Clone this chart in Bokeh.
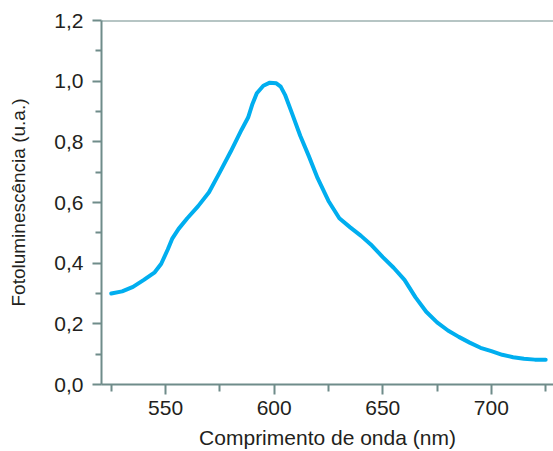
from bokeh.plotting import figure
from bokeh.models import Range1d, FixedTicker, Span
from bokeh.embed import file_html
from bokeh.resources import INLINE

# --- data ---
wavelength = [525, 530, 535, 540, 545, 548, 551, 553, 556, 560, 565, 570, 575,
              580, 585, 588, 590, 592, 595, 598, 601, 603, 605, 608, 612, 616,
              620, 625, 630, 635, 640, 645, 650, 655, 660, 665, 670, 675, 680,
              685, 690, 695, 700, 705, 710, 715, 720, 725]
intensity = [0.300, 0.307, 0.322, 0.345, 0.370, 0.398, 0.445, 0.480, 0.513,
             0.548, 0.588, 0.634, 0.700, 0.768, 0.840, 0.880, 0.925, 0.960,
             0.985, 0.995, 0.993, 0.982, 0.955, 0.898, 0.820, 0.752, 0.680,
             0.605, 0.548, 0.518, 0.490, 0.458, 0.420, 0.385, 0.345, 0.288,
             0.240, 0.205, 0.178, 0.157, 0.138, 0.121, 0.110, 0.098, 0.090,
             0.085, 0.082, 0.082]

x_major = [550, 600, 650, 700]
x_minor = [525, 575, 625, 675, 725]
y_major = [0.0, 0.2, 0.4, 0.6, 0.8, 1.0, 1.2]
y_minor = [0.1, 0.3, 0.5, 0.7, 0.9, 1.1]
y_labels = ["0,0", "0,2", "0,4", "0,6", "0,8", "1,0", "1,2"]

x_title = "Comprimento de onda (nm)"
y_title = "Fotoluminescência (u.a.)"

AXIS = "#6f8c8a"
TEXT = "#231f20"
FONT = "Liberation Sans"
CURVE = "#00aeef"

p = figure(width=553, height=451, output_backend="svg", toolbar_location=None,
           x_range=Range1d(520.5, 728.6), y_range=Range1d(0, 1.2),
           min_border_left=101, min_border_right=0, min_border_top=20,
           min_border_bottom=66)
p.outline_line_color = None
p.grid.visible = False
p.background_fill_color = "white"

p.line(wavelength, intensity, line_color=CURVE, line_width=4,
       line_join="round", line_cap="round")

p.add_layout(Span(location=1.2, dimension="width", line_color=AXIS, line_width=2))

xa = p.xaxis[0]
xa.ticker = FixedTicker(ticks=x_major, minor_ticks=x_minor)
ya = p.yaxis[0]
ya.ticker = FixedTicker(ticks=y_major, minor_ticks=y_minor)
ya.major_label_overrides = {v: l for v, l in zip(y_major, y_labels)}

for ax in (xa, ya):
    ax.axis_line_color = AXIS
    ax.axis_line_width = 2
    ax.major_tick_line_color = AXIS
    ax.minor_tick_line_color = AXIS
    ax.major_tick_line_width = 2
    ax.minor_tick_line_width = 2
    ax.major_tick_in = 0
    ax.minor_tick_in = 0
    ax.major_label_text_font = FONT
    ax.major_label_text_font_size = "21px"
    ax.major_label_text_color = TEXT
    ax.axis_label_text_font = FONT
    ax.axis_label_text_color = TEXT
    ax.axis_label_text_font_style = "normal"

xa.axis_label_text_font_size = "21px"
ya.axis_label_text_font_size = "19px"

xa.major_tick_out = 10
xa.minor_tick_out = 7
xa.major_label_standoff = 6
xa.axis_label = x_title
xa.axis_label_standoff = 8

ya.major_tick_out = 9
ya.minor_tick_out = 6
ya.major_label_standoff = 9
ya.axis_label = y_title
ya.axis_label_standoff = 22

open("out.html", "w").write(file_html(p, INLINE))
